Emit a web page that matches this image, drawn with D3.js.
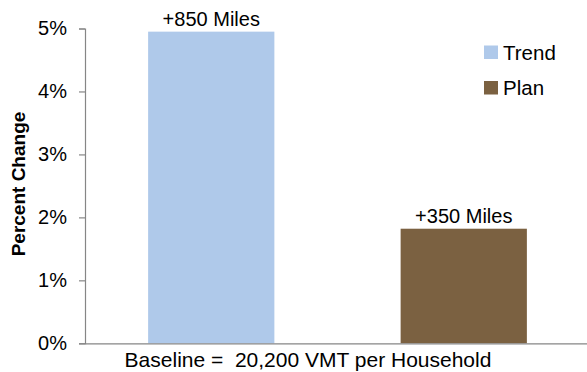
<!DOCTYPE html>
<html>
<head>
<meta charset="utf-8">
<script src="https://cdn.jsdelivr.net/npm/d3@7"></script>
<style>
  html, body { margin: 0; padding: 0; background: #fff; }
  svg { display: block; font-family: "Liberation Sans", Arial, sans-serif; }
</style>
</head>
<body>
<svg id="chart" width="587" height="372"></svg>
<script>
// VMT change by scenario
const categories = ["Trend", "Plan"];
const values = [4.95, 1.82];            // percent change
const barLabels = ["+850 Miles", "+350 Miles"];
const colors = ["#AFC9EA", "#7B6141"];
const yTicks = [0, 1, 2, 3, 4, 5];
const yTitle = "Percent Change";
const xTitle = "Baseline =  20,200 VMT per Household";

const svg = d3.select("#chart");
const plot = { left: 85, right: 590, top: 28.5, bottom: 343.3 };

const x = d3.scaleBand().domain(categories).range([plot.left, plot.right])
  .paddingInner(0.5).paddingOuter(0.25);
const y = d3.scaleLinear().domain([0, 5]).range([plot.bottom, plot.top]);

// Bars
svg.selectAll("rect.bar").data(categories).enter().append("rect")
  .attr("class", "bar")
  .attr("x", d => x(d))
  .attr("width", x.bandwidth())
  .attr("y", (d, i) => y(values[i]))
  .attr("height", (d, i) => y(0) - y(values[i]))
  .attr("fill", (d, i) => colors[i]);

// Bar labels
svg.selectAll("text.lbl").data(categories).enter().append("text")
  .attr("class", "lbl")
  .attr("x", d => x(d) + x.bandwidth() / 2)
  .attr("y", (d, i) => y(values[i]) - 6)
  .attr("text-anchor", "middle")
  .attr("font-size", 20)
  .attr("fill", "#000")
  .text((d, i) => barLabels[i]);

// Y axis
const yAxis = d3.axisLeft(y).tickValues(yTicks).tickFormat(d => d + "%").tickSize(6).tickPadding(12);
const gy = svg.append("g").attr("transform", `translate(${plot.left},0)`).call(yAxis);
gy.select(".domain").attr("stroke", "#868686").attr("stroke-width", 1.2);
gy.selectAll(".tick line").attr("stroke", "#868686").attr("stroke-width", 1.2);
gy.selectAll(".tick text").attr("font-size", 20).attr("fill", "#000")
  .attr("font-family", "Liberation Sans, Arial, sans-serif");

// X axis baseline
const xAxis = d3.axisBottom(x).tickSize(0).tickFormat("");
const gx = svg.append("g").attr("transform", `translate(0,${plot.bottom})`).call(xAxis);
gx.select(".domain").attr("stroke", "#868686").attr("stroke-width", 1.2);

// Titles
svg.append("text")
  .attr("x", 308).attr("y", 367)
  .attr("text-anchor", "middle")
  .attr("font-size", 21).attr("fill", "#000")
  .style("white-space", "pre")
  .text(xTitle);

svg.append("text")
  .attr("transform", "translate(25,184) rotate(-90)")
  .attr("text-anchor", "middle")
  .attr("font-size", 19).attr("font-weight", "bold").attr("fill", "#000")
  .text(yTitle);

// Legend
const legend = svg.append("g");
categories.forEach((c, i) => {
  const ly = 45.5 + i * 35.5;
  legend.append("rect").attr("x", 484).attr("y", ly).attr("width", 14).attr("height", 13.5).attr("fill", colors[i]);
  legend.append("text").attr("x", 503).attr("y", ly + 14)
    .attr("font-size", 20.5).attr("fill", "#000").text(c);
});
</script>
</body>
</html>
